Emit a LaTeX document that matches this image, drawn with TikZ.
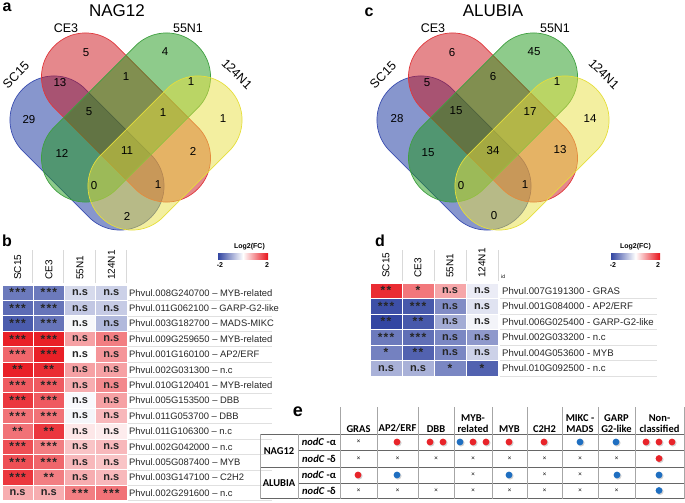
\documentclass[tikz,border=0pt]{standalone}
\usepackage{fontspec}
\setmainfont{Liberation Sans}
\newfontfamily\tabfont{Carlito}
\usepackage{tikz}
\usetikzlibrary{shadows}
\definecolor{vblue}{HTML}{0F2D9B}
\definecolor{vred}{HTML}{CB1119}
\definecolor{vgreen}{HTML}{1D9717}
\definecolor{vyellow}{HTML}{E7DF41}
\definecolor{vbluee}{HTML}{3A4DB0}
\definecolor{vrede}{HTML}{E0383C}
\definecolor{vgreene}{HTML}{3FA040}
\definecolor{vyellowe}{HTML}{E5DE3A}
\definecolor{hblue}{HTML}{3346A2}
\definecolor{hred}{HTML}{E8141C}
\definecolor{dotred}{HTML}{E8242A}
\definecolor{dotblue}{HTML}{1F6FC1}
\newcommand{\starsone}{\raisebox{-0.3em}{\fontsize{12}{12}\selectfont *}}
\newcommand{\starstwo}{\raisebox{-0.3em}{\fontsize{12}{12}\selectfont *\kern1.2pt*}}
\newcommand{\starsthree}{\raisebox{-0.3em}{\fontsize{12}{12}\selectfont *\kern1.2pt*\kern1.2pt*}}
\tikzset{
  vennshape/.style={fill opacity=0.5, line width=0.7pt, rounded corners=43.9pt},
  vnum/.style={font=\fontsize{11.5}{12}\selectfont, inner sep=0pt},
  setlab/.style={font=\fontsize{12.5}{13}\selectfont, inner sep=0pt},
  vtitle/.style={font=\fontsize{17}{18}\selectfont, inner sep=0pt},
  panel/.style={font=\fontsize{16}{16}\selectfont\bfseries, inner sep=0pt},
  hcell/.style={minimum width=31.25pt, minimum height=15.4pt, inner sep=0pt, draw=white,
    line width=0.8pt, font=\fontsize{11}{11}\selectfont\bfseries, text=black!85},
  dcell/.style={hcell, minimum width=32pt, minimum height=15.5pt},
  genelab/.style={anchor=west, inner sep=0pt, font=\fontsize{9.4}{10}\selectfont, text=black!85},
  collab/.style={rotate=90, anchor=west, inner sep=0pt, font=\fontsize{10}{10}\selectfont},
  seprule/.style={draw=black!15, line width=0.5pt},
  uline/.style={draw=black!12, line width=0.6pt},
  legtxt/.style={font=\fontsize{7}{8}\selectfont\bfseries, inner sep=0pt},
  thead/.style={font=\tabfont\fontsize{10.5}{11}\selectfont\bfseries, align=center, anchor=south, inner sep=0pt},
  trow/.style={font=\tabfont\fontsize{10.5}{11}\selectfont\bfseries, inner sep=0pt},
  tmark/.style={font=\tabfont\fontsize{7}{8}\selectfont, inner sep=0pt},
  hrule/.style={draw=black!60, line width=1pt},
  vrule/.style={draw=black!35, line width=0.6pt},
  rdot/.style={circle, fill=dotred, minimum size=6.8pt, inner sep=0pt,
    circular drop shadow={shadow xshift=0.8pt, shadow yshift=-0.8pt, opacity=0.35}},
  bdot/.style={rdot, fill=dotblue}
}

\begin{document}
\begin{tikzpicture}[x=1pt,y=-1pt]
\useasboundingbox (0,0) rectangle (685,503);

% venn diagrams a and c
\foreach \dx in {0,367}{
\begin{scope}[xshift=\dx]
\draw[vennshape, fill=vblue, draw=vbluee, rotate around={-45:(87,153)}] (-3.7,109) rectangle (177.7,197);
\draw[vennshape, fill=vred, draw=vrede, rotate around={-45:(126,117.5)}] (24.7,73.5) rectangle (227.3,161.5);
\draw[vennshape, fill=vgreen, draw=vgreene, rotate around={45:(126,117.5)}] (24.7,73.5) rectangle (227.3,161.5);
\draw[vennshape, fill=vyellow, draw=vyellowe, rotate around={45:(165,153)}] (74.3,109) rectangle (255.7,197);
\node[setlab, rotate=45] (sc\dx) at (16,75) {SC15};
\node[setlab] (ce\dx) at (66,28) {CE3};
\node[setlab] (n55\dx) at (188,28) {55N1};
\node[setlab, rotate=-45] (n124\dx) at (237,74) {124N1};
\end{scope}}

\node[panel] (pa) at (7,7) {a};
\node[vtitle] (tnag) at (117,11) {NAG12};
\node[panel] (pc) at (369,12) {c};
\node[vtitle] (talu) at (493,11) {ALUBIA};

\foreach \x/\y/\n [count=\i] in {86/53/5, 165/52/4, 60/83/13, 126/77/1, 191/82/1, 29/120/29,
  89/112/5, 163/113/1, 223/119/1, 62/153/12, 127/151/11, 193/151/2, 94/186/0, 158/185/1, 127/216/2}
  \node[vnum] (na\i) at (\x,\y) {\n};
\foreach \x/\y/\n [count=\i] in {452/53/6, 534/52/45, 427/83/5, 493/77/6, 557/82/1, 397/119/28,
  456/111/15, 530/112/17, 590/119/14, 428/153/15, 493/151/34, 560/150/13, 461/186/0, 525/185/1, 494/216/0}
  \node[vnum] (nc\i) at (\x,\y) {\n};

% heatmap b
\node[panel] (pb) at (7,241) {b};
\node[legtxt] (lgb) at (249.5,247) {Log2(FC)};
\shade[left color=hblue, right color=hred, middle color=white] (218,253) rectangle (268,259);
\node[legtxt] (lgbmin) at (220,265) {-2};
\node[legtxt] (lgbmax) at (267,265) {2};
\foreach \x/\n in {17.6/SC15, 48.9/CE3, 80.1/55N1, 111.4/124N1}
  \node[collab] (bh-\n) at (\x,280) {\n};
\foreach \x in {32.5,63.7,95,126.3}
  \draw[seprule] (\x,250) -- (\x,283);
\foreach \r/\lab/\ca/\cb/\cc/\cd/\ta/\tb/\tc/\td in {
  1/{Phvul.008G240700 – MYB-related}/hblue!72/hblue!72/hblue!20/hblue!25/\starsthree/\starsthree/n.s/n.s,
  2/{Phvul.011G062100 – GARP-G2-like}/hblue!80/hblue!75/hblue!30/hblue!28/\starsthree/\starsthree/n.s/n.s,
  3/{Phvul.003G182700 – MADS-MIKC}/hblue!88/hblue!75/hblue!4/hblue!38/\starsthree/\starsthree/n.s/n.s,
  4/{Phvul.009G259650 – MYB-related}/hred!95/hred!95/hred!40/hred!55/\starsthree/\starsthree/n.s/n.s,
  5/{Phvul.001G160100 – AP2/ERF}/hred!65/hred!95/white/hred!45/\starsthree/\starsthree/n.s/n.s,
  6/{Phvul.002G031300 – n.c}/hred!95/hred!90/hred!40/hred!40/\starstwo/\starstwo/n.s/n.s,
  7/{Phvul.010G120401 – MYB-related}/hred!70/hred!70/hred!35/hred!50/\starsthree/\starsthree/n.s/n.s,
  8/{Phvul.005G153500 – DBB}/hred!85/hred!70/hblue!3/hred!40/\starsthree/\starsthree/n.s/n.s,
  9/{Phvul.011G053700 – DBB}/hred!60/hred!60/hblue!5/hred!30/\starsthree/\starsthree/n.s/n.s,
  10/{Phvul.011G106300 – n.c}/hred!60/hred!85/hred!10/hred!8/\starstwo/\starstwo/n.s/n.s,
  11/{Phvul.002G042000 – n.c}/hred!75/hred!55/hred!25/hred!30/\starsthree/\starsthree/n.s/n.s,
  12/{Phvul.005G087400 – MYB}/hred!75/hred!65/hred!30/hred!25/\starsthree/\starsthree/n.s/n.s,
  13/{Phvul.003G147100 – C2H2}/hred!85/hred!55/hred!35/hred!30/\starsthree/\starstwo/n.s/n.s,
  14/{Phvul.002G291600 – n.c}/hred!35/hred!35/hred!55/hred!60/n.s/n.s/\starsthree/\starsthree}{
  \pgfmathsetmacro{\yy}{285+15.4*(\r-0.5)}
  \pgfmathsetmacro{\yb}{285+15.4*\r}
  \node[hcell, fill=\ca] (b\r-1) at (17.6,\yy) {\ta};
  \node[hcell, fill=\cb] (b\r-2) at (48.9,\yy) {\tb};
  \node[hcell, fill=\cc] (b\r-3) at (80.1,\yy) {\tc};
  \node[hcell, fill=\cd] (b\r-4) at (111.4,\yy) {\td};
  \node[genelab] (gb\r) at (129,\yy) {\lab};
  \draw[uline] (128,\yb) -- (272,\yb);
}

% heatmap d
\node[panel] (pd) at (380,241) {d};
\node[legtxt] (lgd) at (635.5,247) {Log2(FC)};
\shade[left color=hblue, right color=hred, middle color=white] (611,253) rectangle (660,259);
\node[legtxt] (lgdmin) at (613,265) {-2};
\node[legtxt] (lgdmax) at (658,265) {2};
\node[font=\fontsize{5}{5}\selectfont, inner sep=0pt, anchor=west] (idl) at (501,277) {id};
\foreach \x/\n in {386/SC15, 418/CE3, 450/55N1, 482/124N1}
  \node[collab] (dh-\n) at (\x,278) {\n};
\foreach \x in {402,434,466,498}
  \draw[seprule] (\x,250) -- (\x,281);
\foreach \r/\lab/\ca/\cb/\cc/\cd/\ta/\tb/\tc/\td in {
  1/{Phvul.007G191300 - GRAS}/hred!90/hred!58/hred!38/hblue!10/\starstwo/\starsone/n.s/n.s,
  2/{Phvul.001G084000 - AP2/ERF}/hblue!95/hblue!90/hblue!62/hblue!15/\starsthree/\starsthree/n.s/n.s,
  3/{Phvul.006G025400 - GARP-G2-like}/hblue!100/hblue!90/hblue!45/hblue!6/\starstwo/\starstwo/n.s/n.s,
  4/{Phvul.002G033200 - n.c}/hblue!72/hblue!78/hblue!65/hblue!55/\starsthree/\starsthree/n.s/n.s,
  5/{Phvul.004G053600 - MYB}/hblue!68/hblue!85/hblue!65/hblue!25/\starsone/\starstwo/n.s/n.s,
  6/{Phvul.010G092500 - n.c}/hblue!42/hblue!42/hblue!65/hblue!85/n.s/n.s/\starsone/\starsone}{
  \pgfmathsetmacro{\yy}{283+15.5*(\r-0.5)}
  \pgfmathsetmacro{\yb}{283+15.5*\r}
  \node[dcell, fill=\ca] (d\r-1) at (386,\yy) {\ta};
  \node[dcell, fill=\cb] (d\r-2) at (418,\yy) {\tb};
  \node[dcell, fill=\cc] (d\r-3) at (450,\yy) {\tc};
  \node[dcell, fill=\cd] (d\r-4) at (482,\yy) {\td};
  \node[genelab, font=\fontsize{9.6}{10}\selectfont] (gd\r) at (502,\yy) {\lab};
  \draw[uline] (500,\yb) -- (657,\yb);
}

% table e
\node[panel, font=\fontsize{18}{18}\selectfont\bfseries] (pe) at (298,412) {e};
\foreach \l/\r/\n [count=\i] in {340/377/GRAS, 377/418/{AP2/ERF}, 418/454/DBB, 454/492/{MYB-\\related},
  492/527/MYB, 527/562/C2H2, 562/598/{MIKC -\\MADS}, 598/635/{GARP\\G2-like}, 635/684/{Non-\\classified}}
  \node[thead] (th\i) at ({(\l+\r)/2},432.5) {\n};
\draw[hrule] (260,434) -- (684,434);
\draw[hrule] (298,450.5) -- (684,450.5);
\draw[hrule] (260,467) -- (684,467);
\draw[hrule] (298,483) -- (684,483);
\draw[hrule] (260,498.5) -- (684,498.5);
\foreach \x in {260,298}
  \draw[vrule] (\x,434) -- (\x,498.5);
\foreach \x in {340,377,418,454,492,527,562,598,635,684}
  \draw[vrule] (\x,407) -- (\x,498.5);
\node[trow] (snag) at (279,451) {NAG12};
\node[trow] (salu) at (279,483) {ALUBIA};
\node[trow] (ra1) at (319,442) {\textit{nodC} -α};
\node[trow] (rd1) at (319,458.5) {\textit{nodC} -δ};
\node[trow] (ra2) at (319,475) {\textit{nodC} -α};
\node[trow] (rd2) at (319,490.5) {\textit{nodC} -δ};
% crosses
\foreach \x/\y [count=\i] in {358.5/442,
  358.5/458.5, 397.5/458.5, 436/458.5, 473/458.5, 509.5/458.5, 544.5/458.5, 580/458.5, 616.5/458.5,
  473/475, 544.5/475, 580/475,
  358.5/490.5, 397.5/490.5, 436/490.5, 473/490.5, 509.5/490.5, 544.5/490.5, 580/490.5, 616.5/490.5}
  \node[tmark] (x\i) at (\x,\y) {×};
% dots
\foreach \x/\y [count=\i] in {397/442, 430/442, 443/442, 473/442, 486/442, 509/442, 544/442,
  646/442, 659/442, 672/442, 659/458.5, 358/475}
  \node[rdot] (r\i) at (\x,\y) {};
\foreach \x/\y [count=\i] in {460/442, 580/442, 616/442, 397/475, 509/475, 617/475, 659/475, 659/490.5}
  \node[bdot] (u\i) at (\x,\y) {};
\end{tikzpicture}
\end{document}
